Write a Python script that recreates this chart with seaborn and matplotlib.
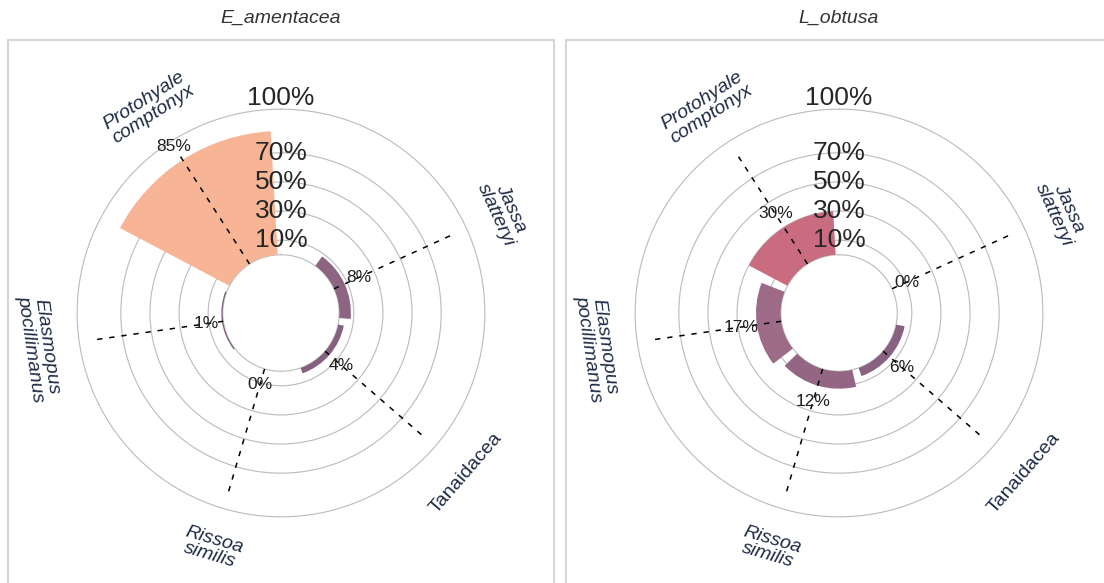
import numpy as np
import matplotlib
matplotlib.use("Agg")
import matplotlib.pyplot as plt
import seaborn as sns
from matplotlib.colors import LinearSegmentedColormap, Normalize

# ---- data -------------------------------------------------------------
categories = ["Jassa\nslatteryi", "Tanaidacea", "Rissoa\nsimilis",
              "Elasmopus\npocillimanus", "Protohyale\ncomptonyx"]
italic_names = [True, False, True, True, True]
panel_titles = ["E_amentacea", "L_obtusa"]
e_amentacea = [8, 4, 0, 1, 85]
l_obtusa = [0, 6, 12, 17, 30]
panel_values = [e_amentacea, l_obtusa]
ring_values = [10, 30, 50, 70, 100]
ring_labels = ["10%", "30%", "50%", "70%", "100%"]
ring_label_pos = [10, 30, 50, 70, 108]

# ---- style ------------------------------------------------------------
sns.set_theme(style="white")
plt.rcParams["font.family"] = ["Liberation Sans", "DejaVu Sans"]

grid_grey = "#BBBBBB"
fill_cmap = LinearSegmentedColormap.from_list(
    "prey", [(0.0, "#7E5E7E"), (0.2, "#9D6A87"), (0.353, "#C96C80"),
             (1.0, "#F7B596")])
all_vals = e_amentacea + l_obtusa
fill_norm = Normalize(vmin=min(all_vals), vmax=max(all_vals))

W, H = 1104, 583
fig = plt.figure(figsize=(W / 100, H / 100), dpi=100)
fig.patch.set_facecolor("white")

n_slots = 5.5
step = 2 * np.pi / n_slots
r_lo, r_hi = -40, 110
panel_side = 546
panel_left = [8, 566]
panel_top = 40
ring_theta = np.linspace(0, 2 * np.pi, 721)

for p in range(2):
    x0 = panel_left[p]
    # panel frame
    fa = fig.add_axes([x0 / W, (H - panel_top - panel_side) / H,
                       panel_side / W, panel_side / H])
    fa.set_xticks([]); fa.set_yticks([])
    fa.set_facecolor("white")
    for s in fa.spines.values():
        s.set_color("#D6D6D6"); s.set_linewidth(1.5); s.set_visible(True)
    fa.set_zorder(0)

    cx = x0 + panel_side / 2
    cy = panel_top + panel_side / 2
    fig.text(cx / W, (H - 18) / H, panel_titles[p], ha="center", va="center",
             fontsize=14, style="italic", color="#333333")

    R = 0.4 * panel_side
    ax = fig.add_axes([(cx - R) / W, (H - cy - R) / H, 2 * R / W, 2 * R / H],
                      projection="polar")
    ax.set_zorder(1)
    ax.patch.set_visible(False)
    ax.set_theta_zero_location("N")
    ax.set_theta_direction(-1)
    ax.set_ylim(0, r_hi)
    ax.set_rorigin(r_lo)
    for s in ax.spines.values():
        s.set_visible(False)
        s.set_edgecolor("none")
    ax.set_xticks([])
    ax.set_yticks(ring_values)
    ax.set_yticklabels([])
    ax.tick_params(axis="y", length=0)
    ax.yaxis.grid(True, color=grid_grey, linewidth=0.8)
    ax.xaxis.grid(False)
    # baseline ring at the edge of the central hole
    ax.plot(ring_theta, np.zeros_like(ring_theta), color=grid_grey,
            linewidth=0.8, zorder=1.5, clip_on=False)

    vals = panel_values[p]
    theta = np.arange(1, len(categories) + 1) * step
    colors = [fill_cmap(fill_norm(v)) for v in vals]
    ax.bar(theta, vals, width=0.9 * step, bottom=0, color=colors,
           edgecolor="none", zorder=2)

    # dashed spokes at each category
    for t in theta:
        ax.plot([t, t], [0, 91], color="black", linewidth=1.1,
                linestyle=(0, (3.5, 4.5)), zorder=3)

    # value labels
    for t, v in zip(theta, vals):
        ax.text(t, v + 11, f"{v}%", ha="center", va="center", fontsize=12.5,
                color="#1F1F1F", zorder=4)

    # ring labels
    for rp, lab in zip(ring_label_pos, ring_labels):
        ax.text(0, rp, lab, ha="center", va="center", fontsize=19,
                color="#262626", zorder=4)

    # category labels along the outside
    for t, name, it in zip(theta, categories, italic_names):
        deg = np.degrees(t)
        rot = -deg
        if 90 < deg < 270:
            rot += 180
        ax.text(t, 128, name, ha="center", va="center", rotation=rot,
                rotation_mode="anchor", fontsize=14, linespacing=0.95,
                style="italic" if it else "normal", color="#1E2B45",
                clip_on=False, zorder=4)

fig.savefig("out.png", dpi=100, facecolor="white")
